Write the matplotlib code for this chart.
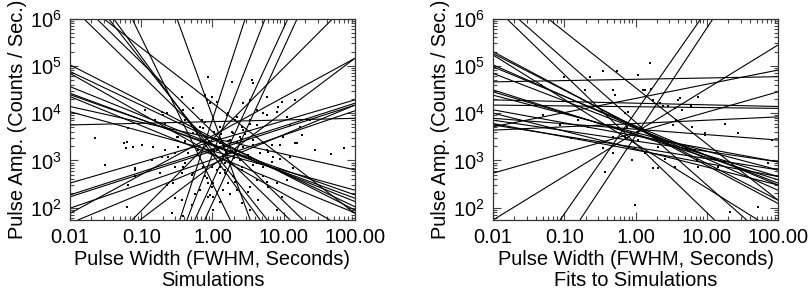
import numpy as np
import matplotlib
matplotlib.use("Agg")
import matplotlib.pyplot as plt
from matplotlib.ticker import FixedLocator, FixedFormatter, LogLocator, NullFormatter

plt.rcParams['font.family'] = ['Liberation Sans', 'DejaVu Sans']
plt.rcParams['mathtext.fontset'] = 'custom'
plt.rcParams['mathtext.rm'] = 'Liberation Sans'
plt.rcParams['mathtext.it'] = 'Liberation Sans'

# --- data (log10 of width in s, log10 of amp in counts/s) ---

# power-law fits drawn as straight lines: (log w0, log a0, log w1, log a1)
sim_lines = [
    (-2, 5.02, 2, 1.95), (-2, 4.88, 2, 2.02), (-2, 4.84, 1.65, 1.74),
    (-2, 4.56, 2, 2.13), (-2, 4.42, 2, 2.20), (-2, 4.39, 2, 2.27),
    (-2, 4.35, 2, 1.89), (-2, 4.14, 2, 2.80), (-2, 4.03, 2, 2.37),
    (-2, 3.75, 2, 3.89),
    (-2, 2.52, 2, 4.28), (-2, 2.27, 2, 4.21), (-2, 2.23, 2, 4.17),
    (-2, 1.99, 2, 4.05), (-2, 1.88, 2, 5.16), (-1.89, 1.74, 2, 4.17),
    (-1.81, 6, 1.09, 1.74), (-1.63, 6, 1.27, 1.74), (-1.53, 6, 2, 1.88),
    (-1.46, 6, 0.77, 1.74), (-1.39, 6, 0.67, 1.74), (-1.13, 6, 0.25, 1.74),
    (-0.50, 6, 0.53, 1.74),
    (-0.46, 1.74, 0.46, 6), (-0.36, 1.74, 0.74, 6), (-0.25, 1.74, 1.06, 6),
    (-0.11, 1.74, 1.19, 6), (-1.13, 1.74, 1.69, 6), (-1.02, 1.74, 2, 5.16),
]

fit_lines = [
    (-2, 5.30, 2, 2.09), (-2, 5.26, 2, 2.16), (-2, 5.23, 1.72, 1.74),
    (-2, 5.02, 2, 2.37), (-2, 4.98, 2, 2.48), (-2, 4.84, 2, 2.52),
    (-2, 4.49, 2, 2.59), (-2, 4.45, 2, 2.66), (-2, 4.38, 2, 2.80),
    (-2, 4.07, 2, 2.97), (-2, 4.00, 2, 2.48), (-2, 3.89, 2, 3.43),
    (-2, 3.85, 2, 2.97), (-2, 3.78, 2, 2.66), (-2, 3.75, 2, 2.80),
    (-2, 4.66, 2, 4.77), (-2, 4.28, 2, 4.14), (-2, 4.17, 2, 4.10),
    (-2, 3.64, 2, 3.92), (-2, 3.71, 2, 4.91), (-2, 2.73, 2, 4.45),
    (-2, 1.74, 2, 5.44),
    (-1.81, 6, 1.11, 1.74), (-1.65, 6, 1.56, 1.74), (-1.23, 6, 2, 2.16),
    (-1.06, 1.74, 0.92, 6), (-0.78, 1.74, 1.09, 6),
]

sim_pts = np.array([
    (-1.65, 3.47), (-1.51, 2.90), (-1.24, 3.36), (-1.22, 3.26), (-1.20, 3.38),
    (-1.11, 3.29), (-0.99, 3.33), (-0.83, 3.29), (-1.18, 3.68), (-1.09, 2.80),
    (-0.95, 4.07), (-0.71, 4.03), (-0.69, 3.96), (-0.81, 3.85), (-0.67, 3.78),
    (-0.57, 3.64), (-0.48, 3.50), (-0.43, 4.35), (-0.41, 4.07), (-0.27, 4.10),
    (-0.15, 3.85), (-0.13, 3.68), (-0.06, 4.77), (-0.08, 4.28), (-0.01, 4.35),
    (-0.67, 3.22), (-0.62, 3.08), (-0.53, 2.87), (-0.43, 2.73), (-0.39, 2.94),
    (-0.29, 2.69), (-0.20, 3.22), (-0.13, 2.87), (-0.11, 2.66), (-0.06, 2.52),
    (-0.18, 2.37), (-0.25, 2.30), (-0.43, 2.16), (-0.53, 2.20), (-0.29, 2.06),
    (-0.06, 2.23), (-0.04, 2.27), (-1.18, 2.48), (-1.09, 2.66), (-0.74, 2.73),
    (-0.64, 2.48), (-0.57, 1.88), (-0.41, 1.82), (-0.71, 3.08), (-0.85, 3.01),
    (-0.53, 3.15), (-0.34, 3.15), (-0.48, 3.29), (-0.39, 3.40), (-0.32, 3.50),
    (-0.22, 3.57), (-0.18, 3.71), (-0.39, 3.85), (-0.29, 3.75), (-0.55, 2.52),
    (-0.01, 2.87), (0.01, 2.52), (0.01, 1.95), (-1.09, 2.84), (-1.20, 2.02),
    (-0.64, 4.00),
    (0.27, 4.66), (0.55, 4.70), (0.57, 4.63), (0.53, 4.28), (0.43, 4.21),
    (0.76, 4.35), (0.97, 4.24), (1.16, 4.28), (0.62, 4.07), (0.71, 4.00),
    (0.90, 4.03), (1.04, 3.92), (1.23, 3.71), (1.37, 3.85), (1.09, 3.75),
    (0.53, 3.85), (0.62, 3.75), (0.43, 3.64), (0.39, 3.50), (0.25, 3.43),
    (0.11, 3.36), (0.06, 3.22), (0.20, 3.15), (0.32, 3.22), (0.43, 3.29),
    (0.57, 3.33), (0.71, 3.36), (0.83, 3.33), (0.78, 3.18), (0.67, 3.15),
    (0.53, 3.08), (0.39, 3.01), (0.25, 2.97), (0.11, 2.87), (0.06, 2.80),
    (0.18, 2.73), (0.29, 2.66), (0.41, 2.87), (0.57, 2.90), (0.71, 2.87),
    (0.83, 2.97), (0.95, 3.04), (1.09, 3.08), (1.18, 3.36), (1.44, 3.22),
    (1.84, 3.27), (1.67, 3.14), (0.15, 2.37), (0.22, 2.52), (0.34, 2.37),
    (0.11, 2.13), (0.25, 2.30), (0.50, 2.34), (0.62, 2.59), (0.71, 2.66),
    (0.90, 2.52), (1.04, 2.59), (1.13, 2.83), (0.78, 2.44), (0.97, 2.23),
    (0.90, 1.95), (0.53, 1.95), (0.41, 2.09), (0.64, 2.16), (-0.01, 2.52),
    (0.01, 2.23), (1.25, 3.54), (1.16, 3.37), (0.99, 3.50),
    (0.05, 3.45), (0.12, 3.55), (0.18, 3.30), (0.22, 3.42), (0.28, 3.60),
    (0.35, 3.38), (0.08, 3.25), (0.15, 3.10), (0.30, 3.05), (0.02, 3.60),
    (-0.05, 3.40), (-0.10, 3.50), (0.25, 3.20), (0.40, 3.45), (0.10, 3.70),
    (0.32, 3.85), (0.20, 3.95), (-0.02, 3.15), (0.45, 3.55), (0.18, 2.95),
    (-0.10, 4.38), (0.06, 4.24), (-0.03, 4.21), (0.22, 4.00), (0.34, 3.92),
    (0.41, 3.71), (0.53, 3.78), (0.76, 3.96), (0.92, 4.13), (-0.50, 3.50),
    (-0.39, 3.36), (-0.27, 3.57), (0.57, 3.43), (0.76, 3.22), (0.85, 3.08),
    (0.95, 3.33), (0.62, 2.94), (0.41, 2.80), (0.11, 2.73), (-0.08, 2.62),
    (-0.27, 2.73), (-0.41, 2.87), (0.18, 2.80), (0.32, 2.55), (0.00, 2.44),
    (0.53, 2.44), (0.76, 2.55), (1.02, 2.73), (-0.20, 3.11), (0.01, 3.22),
    (0.50, 3.11), (0.29, 3.57), (0.11, 3.71), (-0.10, 3.82),
])

fit_pts = np.array([
    (-1.01, 4.77), (-0.64, 4.77), (-0.26, 4.88), (0.04, 4.81), (0.11, 4.49),
    (-0.29, 4.38), (-0.71, 4.49), (0.25, 4.28), (-0.15, 4.00), (-0.12, 3.71),
    (-0.31, 3.50), (0.04, 3.61), (0.34, 4.21), (0.46, 4.14), (0.60, 4.28),
    (0.65, 4.07), (0.88, 4.35), (0.53, 3.75), (0.79, 3.71), (0.98, 3.57),
    (1.26, 3.78), (1.44, 3.57), (1.91, 3.43), (-0.05, 3.01), (0.04, 3.43),
    (0.13, 3.15), (0.32, 3.29), (0.55, 2.87), (0.84, 3.22), (0.88, 2.87),
    (1.16, 2.87), (0.32, 2.83), (-0.01, 2.06), (1.86, 2.94), (1.33, 1.92),
    (1.72, 2.02), (0.20, 5.05), (0.13, 4.49), (0.22, 4.52), (0.39, 4.14),
    (0.55, 4.10), (0.57, 3.85), (0.62, 4.31), (0.78, 4.14), (1.25, 3.78),
    (0.97, 3.54), (0.46, 3.36), (0.41, 3.04), (0.25, 2.83), (0.86, 3.01),
    (-0.46, 4.88), (-0.32, 4.49), (-1.32, 4.59), (-0.11, 4.03), (-0.39, 3.75),
    (-0.67, 3.71), (-0.90, 3.47), (-0.46, 3.26), (-0.32, 3.15), (-0.15, 3.50),
    (-0.06, 3.61), (-0.01, 3.26), (-0.43, 2.76), (-1.30, 3.96), (-1.06, 3.75),
    (-0.81, 3.85),
])

x_ticks = [0.01, 0.1, 1.0, 10.0, 100.0]
x_ticklabels = ["0.01", "0.10", "1.00", "10.00", "100.00"]
y_ticks = [1e2, 1e3, 1e4, 1e5, 1e6]
y_ticklabels = [r"$\mathregular{10^{%d}}$" % p for p in range(2, 7)]
subtitles = ["Simulations", "Fits to Simulations"]

fig = plt.figure(figsize=(8.09, 2.93), dpi=100)
W, H = 809.0, 293.0
ax_l = fig.add_axes([70 / W, 1 - 220 / H, 285 / W, 201.5 / H])
ax_r = fig.add_axes([493 / W, 1 - 220 / H, 285 / W, 201.5 / H])


def draw_panel(ax, lines, pts, subtitle):
    for x0, y0, x1, y1 in lines:
        ax.plot([10 ** x0, 10 ** x1], [10 ** y0, 10 ** y1], color='black', lw=0.8,
                solid_capstyle='butt')
    ax.plot(10 ** pts[:, 0], 10 ** pts[:, 1], linestyle='none', marker='s',
            markersize=1.9, color='black', markeredgewidth=0)
    ax.set_xscale('log')
    ax.set_yscale('log')
    ax.set_xlim(0.01, 100)
    ax.set_ylim(55, 1e6)
    ax.xaxis.set_major_locator(FixedLocator(x_ticks))
    ax.xaxis.set_major_formatter(FixedFormatter(x_ticklabels))
    ax.yaxis.set_major_locator(FixedLocator(y_ticks))
    ax.yaxis.set_major_formatter(FixedFormatter(y_ticklabels))
    for axis in (ax.xaxis, ax.yaxis):
        axis.set_minor_locator(LogLocator(base=10, subs=np.arange(2, 10), numticks=20))
        axis.set_minor_formatter(NullFormatter())
    ax.tick_params(which='both', direction='in', top=True, right=True,
                   color='#444444', width=0.8, labelsize=14.4)
    ax.tick_params(which='major', length=6, pad=6)
    ax.tick_params(which='minor', length=3)
    for s in ax.spines.values():
        s.set_linewidth(0.9)
        s.set_color('#333333')
    ax.set_xlabel("Pulse Width (FWHM, Seconds)\n" + subtitle, fontsize=14.4,
                  linespacing=1.15, labelpad=2)
    ax.set_ylabel("Pulse Amp. (Counts / Sec.)", fontsize=14.4, labelpad=2)


draw_panel(ax_l, sim_lines, sim_pts, subtitles[0])
draw_panel(ax_r, fit_lines, fit_pts, subtitles[1])

fig.savefig("out.png", dpi=100)
